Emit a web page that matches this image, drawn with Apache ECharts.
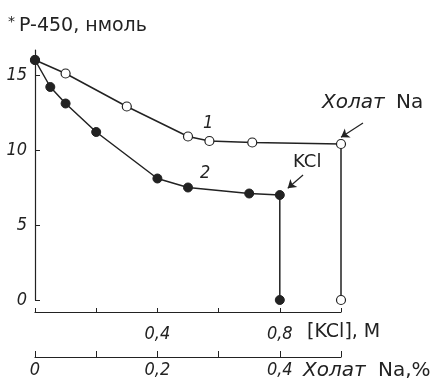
<!DOCTYPE html>
<html>
<head>
<meta charset="utf-8">
<script src="https://cdn.jsdelivr.net/npm/echarts@6/dist/echarts.min.js"></script>
<style>
  html, body { margin: 0; padding: 0; background: #fff; }
  #chart { width: 438px; height: 385px; }
</style>
</head>
<body>
<div id="chart"></div>
<script>
// кривая 1 - холат Na (%), кривая 2 - KCl (M); y - P-450, нмоль
var cholateX = [0, 0.05, 0.15, 0.25, 0.285, 0.355, 0.5, 0.5];
var cholateY = [16, 15.1, 12.9, 10.9, 10.6, 10.5, 10.4, 0];
var kclX = [0, 0.05, 0.1, 0.2, 0.4, 0.5, 0.7, 0.8, 0.8];
var kclY = [16, 14.2, 13.1, 11.2, 8.1, 7.5, 7.1, 7.0, 0];
var yTicks = [0, 5, 10, 15];
var kclTicks = [0.4, 0.8];
var cholateTicks = [0, 0.2, 0.4];

var ink = '#222';
var numFont = 'DejaVu Sans Condensed';
var txtFont = 'DejaVu Sans';

function pairs(xs, ys) {
    return xs.map(function (x, i) { return [x, ys[i]]; });
}
function comma(v) {
    return String(v).replace('.', ',');
}

var chart = echarts.init(document.getElementById('chart'));

var option = {
    animation: false,
    backgroundColor: '#fff',
    grid: {
        left: 35,
        right: 97,
        top: 50,
        bottom: 85,
        outerBoundsMode: 'none'
    },
    xAxis: [
        {
            type: 'value',
            position: 'bottom',
            offset: 12,
            min: 0,
            max: 1.0,
            interval: 0.2,
            splitLine: {show: false},
            axisLine: {onZero: false, lineStyle: {color: ink, width: 1.2}},
            axisTick: {inside: true, length: 4, lineStyle: {color: ink}},
            axisLabel: {
                customValues: kclTicks,
                margin: 13,
                color: ink,
                fontSize: 18,
                fontStyle: 'italic',
                fontFamily: numFont,
                formatter: comma
            }
        },
        {
            type: 'value',
            position: 'bottom',
            offset: 57,
            min: 0,
            max: 0.5,
            interval: 0.1,
            splitLine: {show: false},
            axisLine: {onZero: false, lineStyle: {color: ink, width: 1.2}},
            axisTick: {inside: true, length: 6, lineStyle: {color: ink}},
            axisLabel: {
                customValues: cholateTicks,
                margin: 4,
                color: ink,
                fontSize: 18,
                fontStyle: 'italic',
                fontFamily: numFont,
                formatter: comma
            }
        }
    ],
    yAxis: {
        type: 'value',
        min: 0,
        max: 50 / 3,
        splitLine: {show: false},
        axisLine: {show: true, onZero: false, lineStyle: {color: ink, width: 1.2}},
        axisTick: {show: true, inside: true, length: 5, customValues: yTicks, lineStyle: {color: ink}},
        axisLabel: {
            customValues: yTicks,
            margin: 8,
            color: ink,
            fontSize: 18,
            fontStyle: 'italic',
            fontFamily: numFont
        }
    },
    series: [
        {
            name: '1',
            type: 'line',
            xAxisIndex: 1,
            clip: false,
            data: pairs(cholateX, cholateY),
            symbol: 'circle',
            symbolSize: 9,
            showSymbol: true,
            lineStyle: {color: ink, width: 1.5},
            itemStyle: {color: '#fff', borderColor: ink, borderWidth: 1.2},
            markLine: {
                silent: true,
                symbol: ['none', 'arrow'],
                symbolSize: 8,
                label: {show: false},
                lineStyle: {color: ink, width: 1.2, type: 'solid'},
                // начало стрелки за краем оси - задано в пикселях
                data: [[{x: 363, y: 123}, {coord: [0.5, 10.85]}]]
            }
        },
        {
            name: '2',
            type: 'line',
            xAxisIndex: 0,
            data: pairs(kclX, kclY),
            symbol: 'circle',
            symbolSize: 9,
            showSymbol: true,
            lineStyle: {color: ink, width: 1.5},
            itemStyle: {color: ink, borderColor: ink, borderWidth: 1},
            markLine: {
                silent: true,
                symbol: ['none', 'arrow'],
                symbolSize: 8,
                label: {show: false},
                lineStyle: {color: ink, width: 1.2, type: 'solid'},
                data: [[{coord: [0.876, 8.33]}, {coord: [0.826, 7.45]}]]
            }
        }
    ],
    graphic: [
        {
            type: 'text', left: 8, top: 15,
            style: {
                text: '{s|*}{t|P-450, нмоль}',
                rich: {
                    s: {fontSize: 14, fontFamily: txtFont, fill: ink, verticalAlign: 'top', padding: [0, 4, 8, 0]},
                    t: {fontSize: 19, fontFamily: txtFont, fill: ink}
                }
            }
        },
        {
            type: 'text', left: 203, top: 114,
            style: {text: '1', fontSize: 18, fontStyle: 'italic', fontFamily: numFont, fill: ink}
        },
        {
            type: 'text', left: 200, top: 164,
            style: {text: '2', fontSize: 18, fontStyle: 'italic', fontFamily: numFont, fill: ink}
        },
        {
            type: 'text', left: 322, top: 93,
            style: {
                text: '{i|Холат}{n|Na}',
                rich: {
                    i: {fontSize: 20, fontStyle: 'italic', fontFamily: txtFont, fill: ink, width: 74},
                    n: {fontSize: 20, fontFamily: txtFont, fill: ink}
                }
            }
        },
        {
            type: 'text', left: 293, top: 153,
            style: {text: 'KCl', fontSize: 18, fontFamily: txtFont, fill: ink}
        },
        {
            type: 'text', left: 307, top: 323,
            style: {text: '[KCl], M', fontSize: 19, fontFamily: txtFont, fill: ink}
        },
        {
            type: 'text', left: 303, top: 361,
            style: {
                text: '{i|Холат}{n|Na,%}',
                rich: {
                    i: {fontSize: 20, fontStyle: 'italic', fontFamily: txtFont, fill: ink, width: 75},
                    n: {fontSize: 20, fontFamily: txtFont, fill: ink}
                }
            }
        }
    ]
};

chart.setOption(option);
window.addEventListener('resize', function () {
    chart.resize();
});
</script>
</body>
</html>
